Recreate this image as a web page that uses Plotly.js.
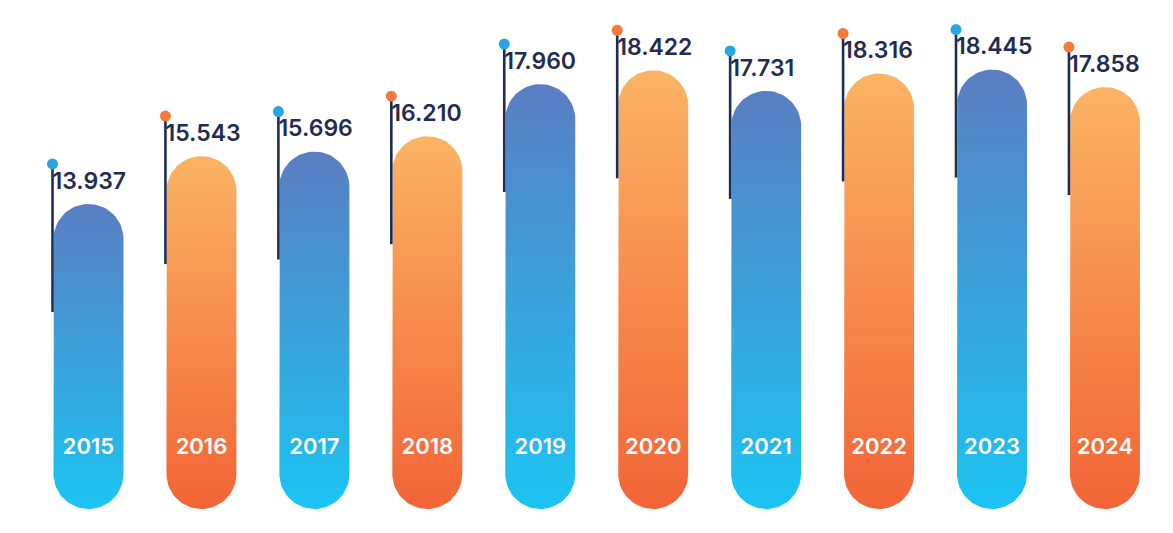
<!DOCTYPE html>
<html>
<head>
<meta charset="utf-8">
<script src="https://cdn.plot.ly/plotly-3.0.1.min.js"></script>
<style>html,body{margin:0;padding:0;background:#fff;}#chart{width:1173px;height:533px;}</style>
</head>
<body>
<div id="chart"></div>
<script>
// ---- data ----
const years = ['2015','2016','2017','2018','2019','2020','2021','2022','2023','2024'];
const values = [13.937, 15.543, 15.696, 16.210, 17.960, 18.422, 17.731, 18.316, 18.445, 17.858];
const valueLabels = ['13.937','15.543','15.696','16.210','17.960','18.422','17.731','18.316','18.445','17.858'];
const palette = ['blue','orange','blue','orange','blue','orange','blue','orange','blue','orange'];

// ---- styles ----
const W = 1173, H = 533;
const xRange = [-0.7836, 9.6025];
const yRange = [2.895, 20.781];
const base = 3.70;
const gradients = {
  blue:   [[0,'#1bc4f3'],[1,'#5a7ec2']],
  orange: [[0,'#f26436'],[1,'#fbb363']]
};
const dotColors = {blue:'#29a5e0', orange:'#f37a3b'};
const navy = '#1f2d4f';

const pxX = (xRange[1]-xRange[0]) / W;   // data units per pixel
const pxY = (yRange[1]-yRange[0]) / H;
const rPx = 35;
const rx = rPx * pxX, ry = rPx * pxY;

const traces = [];
values.forEach((v, i) => {
  const cx = i;
  const yt = v - ry, yb = base + ry;
  const xs = [], ys = [];
  xs.push(cx - rx); ys.push(yb);
  xs.push(cx - rx); ys.push(yt);
  const N = 40;
  for (let k = 0; k <= N; k++) {
    const t = Math.PI - Math.PI * k / N;
    xs.push(cx + rx * Math.cos(t)); ys.push(yt + ry * Math.sin(t));
  }
  xs.push(cx + rx); ys.push(yb);
  for (let k = 0; k <= N; k++) {
    const t = -Math.PI * k / N;
    xs.push(cx + rx * Math.cos(t)); ys.push(yb + ry * Math.sin(t));
  }
  traces.push({
    type: 'scatter', mode: 'lines', x: xs, y: ys,
    fill: 'toself', line: {width: 0, color: 'rgba(0,0,0,0)'},
    fillgradient: {type: 'vertical', colorscale: gradients[palette[i]]},
    hoverinfo: 'skip', showlegend: false
  });
});

// pin lines
const lx = [], ly = [];
values.forEach((v, i) => {
  const x = i - 36 * pxX;
  lx.push(x, x, null);
  ly.push(v + 40 * pxY, v - 108 * pxY, null);
});
traces.push({type:'scatter', mode:'lines', x: lx, y: ly,
  line:{color: navy, width: 2.6}, hoverinfo:'skip', showlegend:false});

// dots
traces.push({type:'scatter', mode:'markers',
  x: values.map((v,i) => i - 36 * pxX),
  y: values.map(v => v + 40 * pxY),
  marker:{size: 11, color: palette.map(p => dotColors[p])},
  hoverinfo:'skip', showlegend:false});

// value labels
traces.push({type:'scatter', mode:'text',
  x: values.map((v,i) => i - 36 * pxX),
  y: values.map(v => v + 21 * pxY),
  text: valueLabels, textposition: 'middle right',
  textfont:{family:'Inter, "Open Sans", sans-serif', size: 23, color: navy, weight: 600},
  hoverinfo:'skip', showlegend:false});

// year labels
traces.push({type:'scatter', mode:'text',
  x: years.map((y,i) => i),
  y: years.map(() => base + 61 * pxY),
  text: years, textposition: 'middle center',
  textfont:{family:'Inter, "Open Sans", sans-serif', size: 22, color: '#ffffff', weight: 600},
  hoverinfo:'skip', showlegend:false});

const layout = {
  width: W, height: H,
  margin: {l:0, r:0, t:0, b:0, pad:0},
  paper_bgcolor:'#ffffff', plot_bgcolor:'#ffffff',
  xaxis: {range: xRange, visible: false, fixedrange: true},
  yaxis: {range: yRange, visible: false, fixedrange: true},
  showlegend: false
};
Plotly.newPlot('chart', traces, layout, {staticPlot: true, displayModeBar: false});
</script>
</body>
</html>
